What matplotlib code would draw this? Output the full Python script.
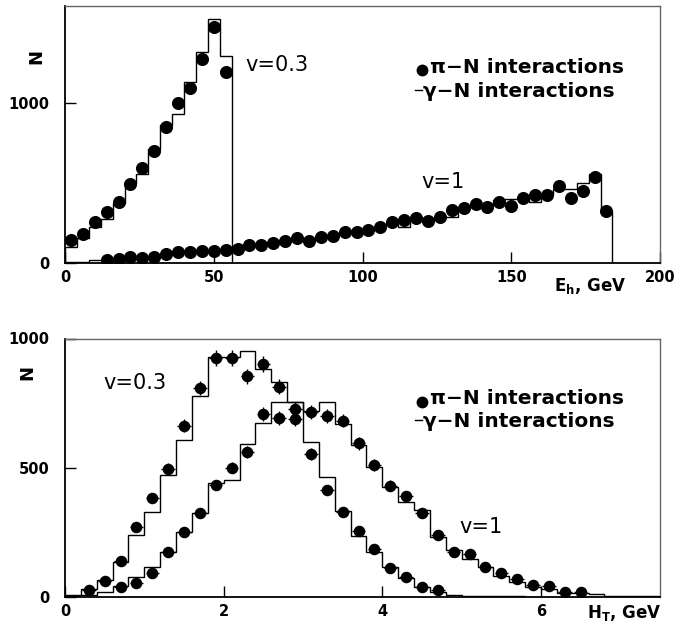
import numpy as np
import matplotlib
matplotlib.use("Agg")
import matplotlib.pyplot as plt
from matplotlib.lines import Line2D

plt.rcParams['font.family'] = ['DejaVu Sans']
plt.rcParams['mathtext.fontset'] = 'custom'
plt.rcParams['mathtext.bf'] = 'DejaVu Sans:bold'
plt.rcParams['mathtext.rm'] = 'DejaVu Sans:bold'
plt.rcParams['mathtext.default'] = 'bf'

# ---------------- top panel data (E_h, GeV) ----------------
top_bin_width = 4
top_v03_hist = [105, 157, 230, 276, 376, 504, 557, 713, 865, 931, 1135, 1322, 1524, 1295]
top_v03_pts = [147, 182, 261, 323, 386, 496, 594, 704, 849, 1000, 1094, 1274, 1474, 1197]
top_v1_hist = [12, 12, 22, 22, 28, 36, 38, 42, 55, 66, 72, 76, 80, 84, 95, 110, 118, 128,
               140, 150, 152, 165, 178, 192, 200, 212, 230, 250, 226, 275, 270, 292, 292,
               340, 360, 362, 396, 400, 410, 386, 425, 463, 463, 500, 559, 330]
top_v1_first_center = 14
top_v1_pts = [22, 28, 39, 32, 39, 57, 70, 70, 78, 78, 84, 93, 115, 115, 130, 140, 157, 143,
              168, 174, 199, 199, 209, 226, 257, 272, 282, 267, 292, 334, 344, 369, 355,
              382, 361, 411, 428, 428, 486, 411, 453, 542, 330]

# ---------------- bottom panel data (H_T, GeV) ----------------
bot_bin_width = 0.2
bot_v03_hist = [5, 30, 65, 136, 239, 327, 472, 605, 778, 930, 930, 950, 881, 831, 756,
                601, 465, 330, 237, 175, 116, 71, 39, 19, 8, 4, 2, 1, 1, 0, 0, 0, 0, 0,
                0, 0, 0, 0]
bot_v03_first_center = 0.3
bot_v03_pts = [26, 62, 138, 269, 381, 494, 662, 808, 924, 924, 853, 901, 814, 727, 553,
               414, 327, 256, 184, 112, 78, 39, 27]
bot_v1_hist = [2, 8, 20, 40, 78, 116, 174, 252, 326, 440, 453, 590, 674, 756, 756, 720,
               756, 669, 588, 504, 426, 366, 336, 233, 181, 145, 116, 80, 58, 36, 31, 16,
               16, 10, 3, 4, 3, 2]
bot_v1_first_center = 0.7
bot_v1_pts = [39, 54, 91, 175, 252, 326, 433, 500, 560, 708, 691, 688, 715, 700, 682, 594,
              510, 430, 390, 326, 239, 175, 165, 114, 93, 70, 45, 41, 19, 19]

legend_pi = "\u03c0\u2212N interactions"
legend_gamma = "\u03b3\u2212N interactions"

W, H = 691, 629
fig = plt.figure(figsize=(W / 100, H / 100), dpi=100)


def px_axes(l, r, t, b):
    return [l / W, 1 - b / H, (r - l) / W, (b - t) / H]


ax1 = fig.add_axes(px_axes(65, 660, 6, 263.5))
ax2 = fig.add_axes(px_axes(65, 660, 338.5, 596.7))


def style(ax):
    for s in ['left', 'bottom']:
        ax.spines[s].set_linewidth(1.3)
        ax.spines[s].set_color('black')
    for s in ['top', 'right']:
        ax.spines[s].set_linewidth(1.0)
        ax.spines[s].set_color('0.4')
    ax.tick_params(direction='in', length=8, width=1.0, labelsize=10.5)
    ax.tick_params(axis='y', pad=11)
    ax.tick_params(axis='x', pad=5)
    for lab in ax.get_xticklabels() + ax.get_yticklabels():
        lab.set_fontweight('bold')


# ---- top panel ----
e03 = np.arange(len(top_v03_hist) + 1) * top_bin_width
e1 = np.arange(len(top_v1_hist) + 1) * top_bin_width
ax1.stairs(top_v03_hist, e03, baseline=0, color='black', lw=1.0)
ax1.stairs(top_v1_hist, e1, baseline=0, color='black', lw=1.0)
x03 = top_bin_width / 2 + np.arange(len(top_v03_pts)) * top_bin_width
x1 = top_v1_first_center + np.arange(len(top_v1_pts)) * top_bin_width
ax1.plot(x03, top_v03_pts, 'o', color='black', ms=8.4, zorder=3)
ax1.plot(x1, top_v1_pts, 'o', color='black', ms=8.4, zorder=3)
ax1.set_xlim(0, 200)
ax1.set_ylim(0, 1607)
ax1.set_xticks([0, 50, 100, 150, 200])
ax1.set_yticks([0, 1000])
style(ax1)
ax1.text(71.1, 1239, "v=0.3", fontsize=15, ha='center', va='center')
ax1.text(127, 511, "v=1", fontsize=15, ha='center', va='center')
ax1.text(0.883, -0.088, r"E$_{h}$, GeV", transform=ax1.transAxes, fontsize=12,
         fontweight='bold', ha='center', va='center')

# ---- bottom panel ----
b03 = np.arange(len(bot_v03_hist) + 1) * bot_bin_width
b1 = np.arange(len(bot_v1_hist) + 1) * bot_bin_width
ax2.stairs(bot_v03_hist, b03, baseline=0, color='black', lw=1.0)
ax2.stairs(bot_v1_hist, b1, baseline=0, color='black', lw=1.0)
h03 = bot_v03_first_center + np.arange(len(bot_v03_pts)) * bot_bin_width
h1 = bot_v1_first_center + np.arange(len(bot_v1_pts)) * bot_bin_width
for xs, ys in [(h03, bot_v03_pts), (h1, bot_v1_pts)]:
    ys = np.array(ys, dtype=float)
    ax2.errorbar(xs, ys, xerr=0.085, yerr=np.sqrt(ys), fmt='o', color='black',
                 ms=7.3, elinewidth=1.0, capsize=0, zorder=3)
ax2.set_xlim(0, 7.5)
ax2.set_ylim(0, 1000)
ax2.set_xticks([0, 2, 4, 6])
ax2.set_yticks([0, 500, 1000])
style(ax2)
ax2.text(0.887, 827, "v=0.3", fontsize=15, ha='center', va='center')
ax2.text(5.24, 271, "v=1", fontsize=15, ha='center', va='center')
ax2.text(0.94, -0.063, r"H$_{T}$, GeV", transform=ax2.transAxes, fontsize=12,
         fontweight='bold', ha='center', va='center')

# ---- legends (dot y, text1 baseline, dash y, text2 baseline) ----
for ax, ys in [(ax1, (0.7515, 0.741, 0.674, 0.648)), (ax2, (0.755, 0.746, 0.684, 0.656))]:
    ax.add_line(Line2D([0.5995], [ys[0]], marker='o', color='black', ms=7.5,
                       transform=ax.transAxes, linestyle='none'))
    ax.text(0.6134, ys[1], legend_pi, transform=ax.transAxes, fontsize=14.5,
            fontweight='bold', ha='left', va='baseline')
    ax.add_line(Line2D([0.588, 0.600], [ys[2], ys[2]], color='black', lw=1.0,
                       transform=ax.transAxes))
    ax.text(0.6017, ys[3], legend_gamma, transform=ax.transAxes, fontsize=14.5,
            fontweight='bold', ha='left', va='baseline')

# ---- N labels ----
fig.text(36.7 / W, 1 - 56.7 / H, "N", rotation=90, fontsize=13, fontweight='bold',
         ha='center', va='center')
fig.text(27 / W, 1 - 372.7 / H, "N", rotation=90, fontsize=13, fontweight='bold',
         ha='center', va='center')

fig.savefig("out.png", dpi=100)
